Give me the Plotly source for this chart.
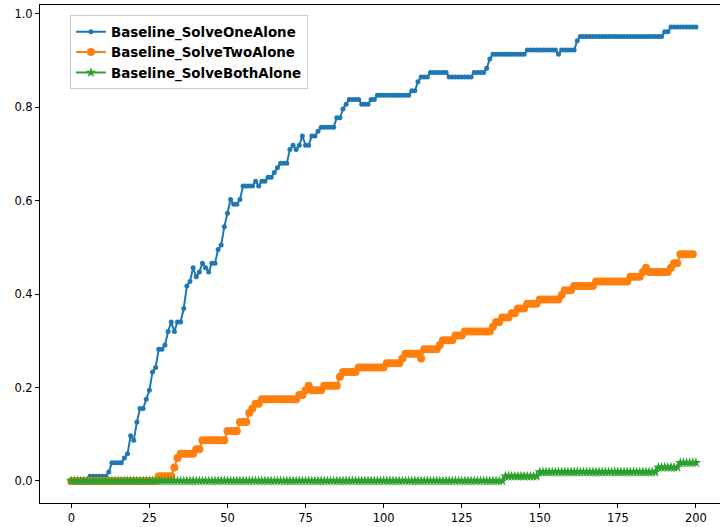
import plotly.graph_objects as go

# evaluation steps
steps = list(range(0, 201))

# Success rate values (fractions)
solve_one_alone = (
    [0.000] * 6 + [0.010] * 6 + [0.019] + [0.039] * 4 + [0.049, 0.058, 0.097, 0.087, 0.126]
    + [0.155] * 2 + [0.175, 0.194, 0.233, 0.243] + [0.282] * 2 + [0.291, 0.320, 0.340, 0.320]
    + [0.340] * 2 + [0.369, 0.417, 0.427, 0.456, 0.437, 0.447, 0.466, 0.456, 0.447]
    + [0.466] * 2 + [0.495, 0.505, 0.544, 0.573, 0.602] + [0.592] * 2 + [0.602]
    + [0.631] * 4 + [0.641, 0.631] + [0.641] * 2 + [0.650] * 2 + [0.660, 0.670]
    + [0.680] * 3 + [0.709, 0.718, 0.709, 0.718, 0.738] + [0.718] * 2 + [0.738] * 2
    + [0.748] + [0.757] * 5 + [0.777] * 2 + [0.796, 0.806] + [0.816] * 4 + [0.806] * 3
    + [0.816] * 2 + [0.825] * 11 + [0.835] * 2 + [0.854] + [0.864] * 3 + [0.874] * 6
    + [0.864] * 8 + [0.874] * 4 + [0.883, 0.903] + [0.913] * 11 + [0.922] * 10 + [0.913]
    + [0.922] * 5 + [0.942] + [0.951] * 27 + [0.961] * 2 + [0.971] * 9
)

solve_two_alone = (
    [0.000] * 28 + [0.010] * 5 + [0.029, 0.049] + [0.058] * 5 + [0.068] * 2 + [0.087] * 8
    + [0.107] * 4 + [0.126] * 3 + [0.146, 0.155] + [0.165] * 2 + [0.175] * 12
    + [0.184] * 2 + [0.194, 0.204] + [0.194] * 4 + [0.204] * 5 + [0.223] + [0.233] * 5
    + [0.243] * 9 + [0.252] * 5 + [0.262] + [0.272] * 5 + [0.262] + [0.282] * 5
    + [0.291] + [0.301] * 4 + [0.311] * 3 + [0.320] * 9 + [0.330] + [0.340] * 2
    + [0.350] * 3 + [0.359] * 2 + [0.369] * 3 + [0.379] * 4 + [0.388] * 7 + [0.398]
    + [0.408] * 3 + [0.417] * 7 + [0.427] * 11 + [0.437] * 4 + [0.447, 0.456]
    + [0.447] * 7 + [0.456] + [0.466] * 2 + [0.485] * 5
)

solve_both_alone = (
    [0.000] * 139 + [0.010] * 11 + [0.019] * 38 + [0.029] * 7 + [0.039] * 6
)

series_names = ["Baseline_SolveOneAlone", "Baseline_SolveTwoAlone", "Baseline_SolveBothAlone"]
colors = ["#1f77b4", "#ff7f0e", "#2ca02c"]

x_ticks = [0, 25, 50, 75, 100, 125, 150, 175, 200]
y_ticks = [0.0, 0.2, 0.4, 0.6, 0.8, 1.0]

fig = go.Figure()
fig.add_trace(go.Scatter(
    x=steps, y=solve_one_alone, name=series_names[0], mode="lines+markers",
    line=dict(color=colors[0], width=2),
    marker=dict(color=colors[0], size=5, symbol="circle"),
))
fig.add_trace(go.Scatter(
    x=steps, y=solve_two_alone, name=series_names[1], mode="lines+markers",
    line=dict(color=colors[1], width=2),
    marker=dict(color=colors[1], size=8, symbol="circle"),
))
fig.add_trace(go.Scatter(
    x=steps, y=solve_both_alone, name=series_names[2], mode="lines+markers",
    line=dict(color=colors[2], width=2),
    marker=dict(color=colors[2], size=8, symbol="star", line=dict(width=0)),
))

tick_font = dict(family="DejaVu Sans", size=11.5, color="#000000")

fig.update_layout(
    width=720, height=527,
    margin=dict(l=40, r=0, t=5, b=24),
    paper_bgcolor="white", plot_bgcolor="white",
    font=dict(family="DejaVu Sans", color="#000000"),
    showlegend=True,
    legend=dict(
        x=0.044, y=0.979, xanchor="left", yanchor="top",
        bgcolor="rgba(255,255,255,0.8)", bordercolor="#cccccc", borderwidth=1,
        font=dict(family="DejaVu Sans", size=13.4, color="#000000", weight="bold"),
        tracegroupgap=0,
    ),
    xaxis=dict(
        range=[-10.02, 207.7], tickmode="array", tickvals=x_ticks,
        ticktext=[str(v) for v in x_ticks],
        showgrid=False, zeroline=False, showline=True, linecolor="black", linewidth=1,
        mirror=True, ticks="outside", ticklen=4, tickcolor="black", tickwidth=1,
        tickfont=tick_font,
    ),
    yaxis=dict(
        range=[-0.0471, 1.0183], tickmode="array", tickvals=y_ticks,
        ticktext=[f"{v:.1f}" for v in y_ticks],
        showgrid=False, zeroline=False, showline=True, linecolor="black", linewidth=1,
        mirror=False, ticks="outside", ticklen=4, tickcolor="black", tickwidth=1,
        tickfont=tick_font,
    ),
)

fig.write_html(
    "out.html",
    config={"displayModeBar": False},
    post_script="document.body.style.margin='0';document.body.style.overflow='hidden';",
)
